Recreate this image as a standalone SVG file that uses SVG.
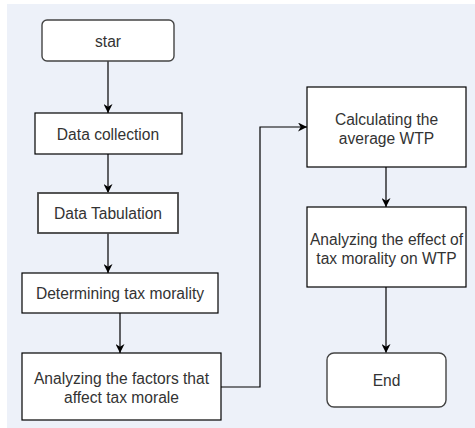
<svg xmlns="http://www.w3.org/2000/svg" width="475" height="428" viewBox="0 0 475 428">
<defs>
<marker id="ah" viewBox="0 0 10 10" refX="10" refY="5" markerWidth="9" markerHeight="9" markerUnits="userSpaceOnUse" orient="auto">
<path d="M0,0 L10,5 L0,10 L3,5 Z" fill="#000"/>
</marker>
</defs>
<style>
.box{fill:#fff;stroke:#000;stroke-width:1.2}
.rnd{fill:#fff;stroke:#444;stroke-width:1.4}
.tab{fill:#fff;stroke:#444;stroke-width:1.8}
text{font-family:"Liberation Sans",Arial,sans-serif;font-size:15.6px;fill:#333;text-anchor:middle;dominant-baseline:central}
.c{fill:none;stroke:#000;stroke-width:1.2;marker-end:url(#ah)}
</style>
<rect x="0" y="0" width="475" height="428" fill="#fff"/>
<rect x="7" y="4" width="468" height="424" fill="#EDF1F9"/>
<g id="connectors">
<path class="c" d="M108,61 V113"/>
<path class="c" d="M108,154 V193"/>
<path class="c" d="M108,233 V273"/>
<path class="c" d="M120,313 V353"/>
<path class="c" d="M221,387 H260 V127 H307"/>
<path class="c" d="M386,167 V207"/>
<path class="c" d="M386,287 V353"/>
</g>
<g id="start"><rect class="rnd" x="42" y="20" width="132" height="41" rx="5"/><text x="108" y="41">star</text></g>
<g id="collection"><rect class="box" x="35" y="113" width="147" height="41"/><text x="108" y="134">Data collection</text></g>
<g id="tabulation"><rect class="tab" x="38" y="193" width="140" height="40"/><text x="108" y="213">Data Tabulation</text></g>
<g id="determining"><rect class="box" x="22" y="273" width="196" height="40"/><text x="120" y="293">Determining tax morality</text></g>
<g id="factors"><rect class="box" x="22" y="353" width="199" height="67"/><text x="121.5" y="378">Analyzing the factors that</text><text x="121.5" y="397">affect tax morale</text></g>
<g id="average"><rect class="box" x="307" y="87" width="159" height="80"/><text x="386.5" y="119">Calculating the</text><text x="386.5" y="138">average WTP</text></g>
<g id="effect"><rect class="box" x="307" y="207" width="159" height="80"/><text x="386.5" y="239">Analyzing the effect of</text><text x="386.5" y="258">tax morality on WTP</text></g>
<g id="end"><rect class="rnd" x="327" y="353" width="119" height="54" rx="7"/><text x="386.5" y="380">End</text></g>
</svg>
